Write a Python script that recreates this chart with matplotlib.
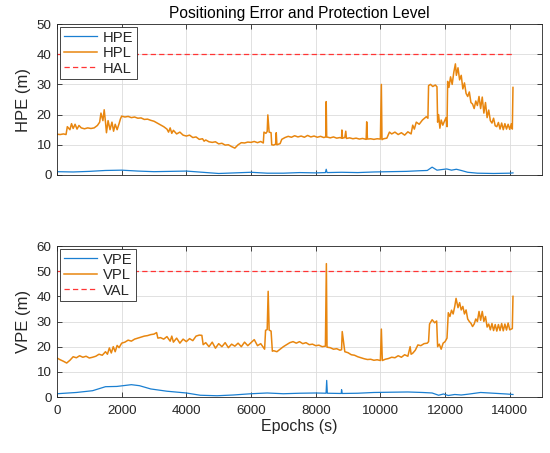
import numpy as np
import matplotlib
matplotlib.use('Agg')
import matplotlib.pyplot as plt

# ---- horizontal: epochs (s) and values (m) ----
hpl_t = [0, 100, 200, 280, 320, 400, 450, 500, 560, 620, 680, 750, 850, 950, 1050, 1150, 1250,
         1320, 1360, 1420, 1460, 1500, 1530, 1580, 1640, 1700, 1750, 1800, 1860, 1920, 1960, 2000,
         2100, 2200, 2300, 2400, 2500, 2600, 2700, 2800, 2900, 3000, 3100, 3200, 3300, 3400, 3450,
         3500, 3550, 3600, 3700, 3800, 3900, 4000, 4100, 4200, 4300, 4400, 4500, 4550, 4600, 4700,
         4800, 4900, 5000, 5100, 5200, 5300, 5400, 5500, 5600, 5700, 5800, 5900, 6000, 6100, 6200,
         6300, 6380, 6400, 6460, 6500, 6520, 6560, 6620, 6640, 6700, 6760, 6780, 6800, 6900, 6950,
         7050, 7150, 7250, 7350, 7450, 7550, 7650, 7750, 7850, 7950, 8050, 8150, 8250, 8310, 8325,
         8340, 8450, 8550, 8650, 8750, 8800, 8810, 8830, 8900, 8930, 8950, 9050, 9150, 9250, 9350,
         9450, 9560, 9577, 9600, 9700, 9800, 9900, 10000, 10030, 10050, 10100, 10200, 10280, 10350,
         10450, 10550, 10650, 10750, 10850, 10950, 11000, 11050, 11110, 11200, 11300, 11420, 11470,
         11490, 11550, 11620, 11700, 11750, 11770, 11800, 11840, 11880, 11930, 11980, 12030, 12060,
         12080, 12120, 12170, 12220, 12270, 12320, 12350, 12400, 12450, 12500, 12550, 12600, 12650,
         12700, 12750, 12800, 12850, 12900, 12950, 13000, 13050, 13100, 13150, 13200, 13250, 13300,
         13350, 13400, 13450, 13500, 13550, 13600, 13650, 13700, 13750, 13800, 13850, 13900, 13950,
         14000, 14050, 14080, 14100]
hpl_v = [13.5, 13.4, 13.6, 13.4, 16.0, 15.0, 17.0, 15.4, 16.8, 15.2, 16.4, 15.6, 15.3, 15.6, 15.4, 15.6, 16.4,
         17.5, 20.5, 18.0, 21.6, 17.5, 14.0, 18.0, 15.0, 17.5, 14.5, 16.8, 15.0, 17.0, 18.5, 19.5,
         19.2, 19.4, 19.0, 19.2, 18.8, 18.9, 18.4, 18.5, 18.1, 17.8, 17.2, 16.6, 16.0, 15.2, 14.2,
         15.6, 13.8, 14.8, 13.6, 14.2, 13.2, 12.9, 13.2, 12.4, 12.6, 11.8, 12.0, 11.2, 11.6, 11.0,
         10.8, 11.0, 10.3, 10.5, 9.9, 10.0, 9.4, 8.9, 10.0, 10.7, 10.6, 10.9, 10.8, 11.1, 10.7,
         11.1, 10.6, 14.2, 13.8, 14.4, 19.9, 14.2, 14.0, 10.0, 9.9, 10.2, 14.0, 10.0, 10.4, 11.8,
         12.4, 12.8, 12.5, 13.0, 12.6, 12.9, 12.5, 13.1, 12.6, 12.9, 12.5, 12.8, 12.4, 12.6, 24.3,
         12.6, 12.3, 12.6, 12.2, 12.4, 12.2, 14.9, 12.2, 12.4, 14.5, 12.1, 12.3, 12.0, 12.2, 11.9,
         12.1, 11.8, 17.6, 11.9, 12.0, 11.8, 12.0, 11.9, 30.0, 11.7, 12.0, 12.2, 14.2, 13.6,
         14.2, 13.4, 14.0, 13.2, 14.3, 13.6, 16.5, 15.2, 17.5, 16.8, 18.2, 19.3, 18.8,
         29.6, 30.0, 29.3, 29.8, 29.2, 17.5, 20.0, 15.5, 18.2, 16.5, 17.8, 19.0, 16.0,
         31.0, 29.0, 32.5, 30.0, 34.0, 36.8, 33.0, 35.5, 31.5, 33.0, 28.5, 30.5, 27.0,
         26.0, 27.5, 24.0, 23.5, 22.0, 24.5, 23.0, 26.0, 22.0, 25.8, 20.5, 24.0, 19.0,
         21.5, 18.0, 17.2, 18.8, 16.3, 16.0, 17.4, 15.2, 17.2, 15.0, 17.0, 15.2, 16.8,
         15.1, 17.0, 15.2, 29.0]

hpe_t = [0, 500, 1000, 1500, 2000, 2500, 3000, 3500, 4000, 4500, 5000, 5500, 6000, 6500, 7000,
         7500, 8000, 8300, 8325, 8350, 8800, 9300, 9800, 10300, 10800, 11200, 11450, 11600, 11750,
         11900, 12050, 12200, 12350, 12500, 12700, 13000, 13500, 14000, 14100]
hpe_v = [1.1, 1.0, 1.2, 1.5, 1.6, 1.3, 1.1, 1.2, 1.3, 0.9, 0.5, 0.7, 0.9, 0.6, 0.6,
         0.8, 0.7, 0.8, 1.9, 0.8, 0.9, 0.8, 1.0, 1.1, 1.2, 1.4, 1.5, 2.6, 1.6,
         1.8, 2.0, 1.6, 1.9, 1.5, 0.9, 0.6, 0.5, 0.6, 0.7]

hal_t = [0, 14100]
hal_v = [40, 40]

# ---- vertical ----
vpl_t = [0, 100, 200, 300, 400, 500, 600, 700, 800, 900, 1000, 1100, 1200, 1300, 1400, 1500,
         1560, 1620, 1680, 1740, 1800, 1860, 1920, 2000, 2100, 2200, 2300, 2400, 2500, 2600,
         2700, 2800, 2900, 3000, 3080, 3120, 3200, 3300, 3400, 3500, 3550, 3600, 3700, 3800,
         3900, 4000, 4100, 4200, 4300, 4400, 4480, 4520, 4600, 4700, 4800, 4900, 5000, 5100,
         5200, 5300, 5400, 5500, 5600, 5700, 5800, 5900, 6000, 6100, 6200, 6300, 6420, 6450,
         6500, 6530, 6560, 6620, 6660, 6700, 6800, 6900, 7000, 7100, 7200, 7300, 7400, 7500,
         7600, 7700, 7800, 7900, 8000, 8100, 8200, 8300, 8330, 8350, 8450, 8550, 8650, 8750,
         8800, 8820, 8900, 9000, 9100, 9200, 9300, 9400, 9500, 9600, 9700, 9800, 9900, 10000,
         10030, 10060, 10150, 10250, 10350, 10450, 10550, 10650, 10750, 10850, 10920, 10950,
         11000, 11080, 11160, 11250, 11350, 11450, 11490, 11520, 11600, 11680, 11740, 11770,
         11820, 11880, 11940, 12000, 12060, 12100, 12150, 12200, 12250, 12300, 12340, 12400,
         12450, 12500, 12550, 12600, 12650, 12700, 12750, 12800, 12850, 12900, 12950, 13000,
         13050, 13100, 13150, 13200, 13250, 13300, 13350, 13400, 13450, 13500, 13550, 13600,
         13650, 13700, 13750, 13800, 13850, 13900, 13950, 14000, 14050, 14080, 14100]
vpl_v = [15.5, 14.8, 14.2, 13.5, 14.6, 16.0, 15.6, 16.4, 15.8, 16.2, 15.5, 15.8, 16.2, 17.0, 16.6, 18.0,
         17.0, 19.5, 17.5, 20.0, 18.0, 20.5, 19.6, 21.4, 21.8, 22.6, 22.2, 23.0, 23.4, 23.8,
         24.2, 24.4, 24.8, 25.0, 25.6, 23.4, 23.6, 23.0, 24.0, 22.2, 24.2, 21.8, 23.4, 21.4,
         23.0, 22.0, 23.2, 22.4, 24.2, 24.6, 24.5, 20.8, 21.6, 20.0, 21.8, 19.4, 21.2, 20.0,
         21.6, 19.6, 21.0, 20.2, 21.4, 20.0, 21.8, 20.4, 21.6, 22.8, 20.4, 21.2, 19.0, 26.5,
         26.8, 42.0, 26.6, 26.2, 18.2, 18.4, 18.0, 19.0, 20.0, 20.8, 21.6, 22.0, 21.4, 22.0,
         21.2, 21.6, 20.8, 21.0, 20.4, 20.6, 20.0, 20.2, 53.0, 19.8, 19.6, 19.0, 19.2, 18.6,
         18.8, 26.0, 18.0, 17.6, 16.8, 16.6, 16.0, 15.6, 15.2, 14.9, 15.0, 14.6, 14.8, 14.5,
         27.0, 14.5, 15.0, 15.3, 15.8, 15.6, 16.4, 15.8, 16.8, 16.2, 20.0, 17.0,
         17.4, 18.6, 20.7, 20.4, 21.2, 21.4, 22.0, 29.0, 30.7, 29.5, 30.2, 20.0,
         21.0, 19.0, 21.4, 22.0, 23.4, 33.5, 32.0, 34.5, 33.0, 36.0, 39.2, 35.5,
         37.5, 34.6, 36.0, 33.0, 34.6, 31.0, 30.0, 29.3, 28.0, 29.0, 31.0, 30.0,
         34.0, 30.5, 34.0, 30.0, 32.0, 27.8, 29.0, 26.7, 29.2, 26.4, 28.8, 26.2,
         28.8, 26.4, 29.2, 26.3, 29.0, 26.6, 29.4, 26.7, 27.0, 27.2, 40.0]

vpe_t = [0, 600, 1100, 1500, 1850, 2300, 2550, 2900, 3400, 4000, 4430, 4950, 5450, 6000, 6500,
         7000, 7500, 8000, 8320, 8340, 8360, 8790, 8800, 8820, 9300, 9800, 10300, 10850, 11300,
         11600, 11800, 11950, 12100, 12300, 12500, 12700, 13100, 13500, 13900, 14100]
vpe_v = [1.3, 1.8, 2.5, 4.1, 4.2, 4.9, 4.5, 3.2, 2.3, 1.6, 0.7, 0.5, 0.8, 1.3, 1.6,
         1.3, 1.5, 1.6, 1.5, 6.6, 1.5, 1.4, 2.9, 1.4, 1.5, 1.8, 1.9, 2.0, 1.8,
         1.6, 0.7, 1.2, 0.6, 1.0, 0.8, 1.1, 1.8, 1.5, 1.2, 1.0]

val_t = [0, 14100]
val_v = [50, 50]

plt.rcParams['font.family'] = ['Liberation Sans', 'DejaVu Sans']
plt.rcParams['lines.scale_dashes'] = False

c_pe = '#1a7fd1'
c_pl = '#e8860f'
c_al = '#ff3535'
ax_col = '#262626'

fig = plt.figure(figsize=(5.5, 4.53), dpi=100)
ax1 = fig.add_axes([0.1036, 0.6137, 0.882, 0.3333])
ax2 = fig.add_axes([0.1036, 0.1236, 0.882, 0.3333])


def style(ax, ylim, yticks):
    ax.set_xlim(0, 15000)
    ax.set_ylim(*ylim)
    ax.set_yticks(yticks)
    ax.set_xticks(np.arange(0, 14001, 2000))
    ax.grid(True, color='#dcdcdc', linewidth=0.6)
    ax.set_axisbelow(True)
    ax.tick_params(direction='in', length=3.5, width=0.6, top=True, right=True,
                   colors=ax_col, labelsize=9.6)
    ax.tick_params(axis='x', pad=5.5)
    ax.tick_params(axis='y', pad=4)
    for s in ax.spines.values():
        s.set_color(ax_col)
        s.set_linewidth(0.6)


ax1.plot(hpe_t, hpe_v, color=c_pe, lw=0.9, label='HPE')
ax1.plot(hpl_t, hpl_v, color=c_pl, lw=1.1, label='HPL')
ax1.plot(hal_t, hal_v, color=c_al, lw=0.9, dashes=(3.8, 2.3), label='HAL')
style(ax1, (0, 50), [0, 10, 20, 30, 40, 50])
ax1.tick_params(axis='x', labelbottom=False)
ax1.set_ylabel('HPE (m)', fontsize=12, color=ax_col, labelpad=4)
ax1.set_title('Positioning Error and Protection Level', fontsize=11.2, color='black', pad=4)

ax2.plot(vpe_t, vpe_v, color=c_pe, lw=0.9, label='VPE')
ax2.plot(vpl_t, vpl_v, color=c_pl, lw=1.1, label='VPL')
ax2.plot(val_t, val_v, color=c_al, lw=0.9, dashes=(3.8, 2.3), label='VAL')
style(ax2, (0, 60), [0, 10, 20, 30, 40, 50, 60])
ax2.set_ylabel('VPE (m)', fontsize=12, color=ax_col, labelpad=4)
ax2.set_xlabel('Epochs (s)', fontsize=11.5, color=ax_col, labelpad=1.5)

for ax in (ax1, ax2):
    leg = ax.legend(loc='upper left', fontsize=10.6, frameon=True, fancybox=False,
                    framealpha=1, edgecolor=ax_col, borderaxespad=0.2,
                    handlelength=2.3, handletextpad=0.35, labelspacing=0.1,
                    borderpad=0.25)
    leg.get_frame().set_linewidth(0.6)
    for t in leg.get_texts():
        t.set_color(ax_col)

fig.savefig('out.png', dpi=100)
